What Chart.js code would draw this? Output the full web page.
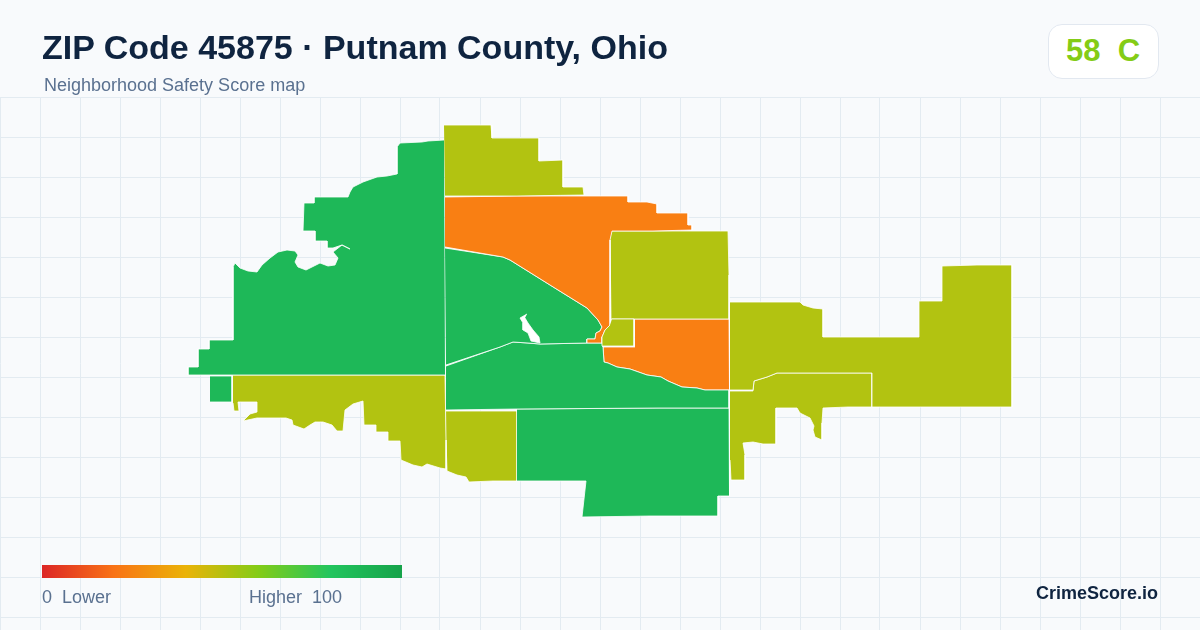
<!DOCTYPE html>
<html>
<head>
<meta charset="utf-8">
<title>ZIP Code 45875 · Putnam County, Ohio</title>
<script src="https://cdn.jsdelivr.net/npm/chart.js@4"></script>
<style>
	html, body { margin: 0; padding: 0; background: #f8fafc; }
	body { position: relative; width: 1200px; height: 630px; overflow: hidden; font-family: "Liberation Sans", Arial, sans-serif; }
	canvas { position: absolute; left: 0; top: 0; }
	.txt { position: absolute; white-space: pre; line-height: 1; }
	#title { left: 42px; top: 30px; font-size: 34px; font-weight: bold; color: #0f2440; }
	#subtitle { left: 44px; top: 76px; font-size: 18px; color: #5a7190; }
	#badge { position: absolute; left: 1048px; top: 24px; width: 109px; height: 53px; background: #fff; border: 1px solid #e2e8f0; border-radius: 14px; }
	#grade { left: 1066px; top: 35px; font-size: 31px; font-weight: bold; color: #84cc16; }
	#ramp { position: absolute; left: 42px; top: 565px; width: 360px; height: 13px; background: linear-gradient(90deg, #dc2626 0%, #f97316 20%, #eab308 40%, #84cc16 60%, #22c55e 80%, #16a34a 100%); }
	#low { left: 42px; top: 588px; font-size: 18px; color: #5a7190; }
	#high { left: 249px; top: 588px; font-size: 18px; color: #5a7190; }
	#brand { right: 42px; top: 584px; font-size: 18px; font-weight: bold; color: #0f2440; }
</style>
</head>
<body>
<canvas id="map" width="1200" height="630"></canvas>
<div id="title" class="txt">ZIP Code 45875 · Putnam County, Ohio</div>
<div id="subtitle" class="txt">Neighborhood Safety Score map</div>
<div id="badge"></div>
<div id="grade" class="txt">58  C</div>
<div id="ramp"></div>
<div id="low" class="txt">0  Lower</div>
<div id="high" class="txt">Higher  100</div>
<div id="brand" class="txt">CrimeScore.io</div>
<script>
// outlines, in map units
const lake = [[527,314],[520,318],[523,323],[523,330],[528,333],[531,341],[540,343],[539,337],[533,330],[528,323],[525,318]];

const westTract = [[444,140],[428,141],[422,142],[400,143],[397,147],[397,174],[387,176],[377,177],[363,182],[353,187],[350,192],[348,197],[314,197],[314,203],[304,203],[303,231],[315,231],[315,241],[327,241],[327,248],[333,248],[342,245],[350,249],[342,245],[333,252],[338,258],[335,265],[328,266],[320,263],[312,267],[306,270],[298,267],[295,262],[298,255],[295,251],[287,250],[278,252],[270,258],[262,265],[257,272],[248,271],[240,268],[235,263],[233,267],[233,340],[209,340],[209,349],[198,349],[198,367],[188,367],[188,375],[445,375]];
const westPiece = [[210,376],[232,376],[232,402],[210,402]];
const southWestTract = [[233,375],[445,375],[446,440],[446,469],[440,468],[427,464],[422,467],[413,465],[401,460],[400,441],[388,441],[388,432],[376,432],[376,425],[364,425],[363,401],[353,404],[345,410],[343,431],[337,431],[332,425],[323,422],[315,422],[310,425],[304,429],[293,425],[292,420],[286,418],[257,418],[243,421],[250,414],[257,412],[257,402],[238,402],[239,411],[234,411],[233,403]];
const northTract = [[444,125],[491,125],[492,138],[539,138],[539,161],[563,160],[563,187],[583,187],[584,195],[517,196],[445,196]];
const northOrange = [[445,197],[517,196],[628,196],[628,202],[647,202],[657,204],[657,213],[688,213],[688,225],[692,225],[692,230],[653,231],[612,231],[610,240],[610,325],[605,330],[602,337],[602,343],[587,343],[587,339],[595,339],[596,333],[600,331],[602,327],[598,320],[587,308],[550,285],[510,260],[503,257],[445,247]];
const centerTract = [[445,248],[503,257],[510,260],[550,285],[587,308],[598,320],[602,327],[600,331],[596,333],[595,339],[587,339],[587,343],[540,344],[528,343],[513,342],[500,347],[446,365]];
const bandTract = [[446,366],[500,347],[513,342],[528,343],[540,344],[587,343],[602,343],[603,347],[604,362],[608,363],[617,367],[630,369],[647,375],[661,377],[668,381],[682,387],[697,388],[705,390],[729,390],[729,408],[659,408],[517,409],[446,410]];
const townTract = [[612,319],[634,319],[634,346],[602,346],[602,337],[605,330],[610,325]];
const northEastTract = [[612,231],[653,231],[728,231],[729,275],[729,319],[611,319],[610,240]];
const eastOrange = [[635,319],[729,319],[730,383],[729,390],[705,390],[697,388],[682,387],[668,381],[661,377],[647,375],[630,369],[617,367],[608,363],[604,362],[603,347],[635,347]];
const eastTract = [[730,302],[800,302],[803,305],[813,308],[823,309],[823,337],[919,337],[919,301],[942,301],[942,266],[977,265],[1012,265],[1012,407],[872,407],[872,373],[777,373],[767,377],[754,381],[753,390],[730,390]];
const southEastTract = [[730,391],[753,391],[754,381],[767,377],[777,373],[872,373],[872,407],[848,407],[823,408],[822,423],[822,440],[815,437],[813,430],[814,426],[810,418],[800,413],[797,408],[776,408],[776,444],[763,444],[753,442],[743,443],[745,455],[745,480],[731,480],[730,460]];
const southTract = [[517,409],[659,408],[729,408],[729,460],[730,496],[718,496],[718,516],[650,516],[582,517],[586,481],[517,481]];
const southOlive = [[446,411],[517,411],[517,481],[493,481],[469,482],[466,477],[457,475],[447,471],[446,440]];

const GREEN = "#1eb858";
const OLIVE = "#b2c311";
const ORANGE = "#f97f13";

const gridColumns = [];
for (let x = 0; x <= 1200; x += 40) gridColumns.push(x);
const gridRows = [97,137,177,217,257,297,337,377,417,457,497,537,577,617];

function tract(points, color) {
	return {
		data: points,
		showLine: true,
		fill: "shape",
		tension: 0,
		backgroundColor: color,
		borderColor: "#ffffff",
		borderWidth: 0.8,
		pointRadius: 0
	};
}

new Chart(document.getElementById("map"), {
	type: "scatter",
	data: {
		datasets: [
			tract(lake, "#ffffff"),
			tract(townTract, OLIVE),
			tract(westPiece, GREEN),
			tract(westTract, GREEN),
			tract(southWestTract, OLIVE),
			tract(northTract, OLIVE),
			tract(northOrange, ORANGE),
			tract(centerTract, GREEN),
			tract(bandTract, GREEN),
			tract(northEastTract, OLIVE),
			tract(eastOrange, ORANGE),
			tract(eastTract, OLIVE),
			tract(southEastTract, OLIVE),
			tract(southTract, GREEN),
			tract(southOlive, OLIVE)
		]
	},
	options: {
		responsive: false,
		animation: false,
		layout: { padding: { top: 97 } },
		plugins: { legend: { display: false }, tooltip: { enabled: false } },
		scales: {
			x: {
				type: "linear",
				min: 0,
				max: 1200,
				afterBuildTicks: axis => { axis.ticks = gridColumns.map(value => ({ value })); },
				ticks: { display: false },
				border: { display: false },
				grid: { color: "#e3ebf1", lineWidth: 1, drawTicks: false }
			},
			y: {
				type: "linear",
				reverse: true,
				min: 97,
				max: 630,
				afterBuildTicks: axis => { axis.ticks = gridRows.map(value => ({ value })); },
				ticks: { display: false },
				border: { display: false },
				grid: { color: "#e3ebf1", lineWidth: 1, drawTicks: false }
			}
		}
	}
});
</script>
</body>
</html>
